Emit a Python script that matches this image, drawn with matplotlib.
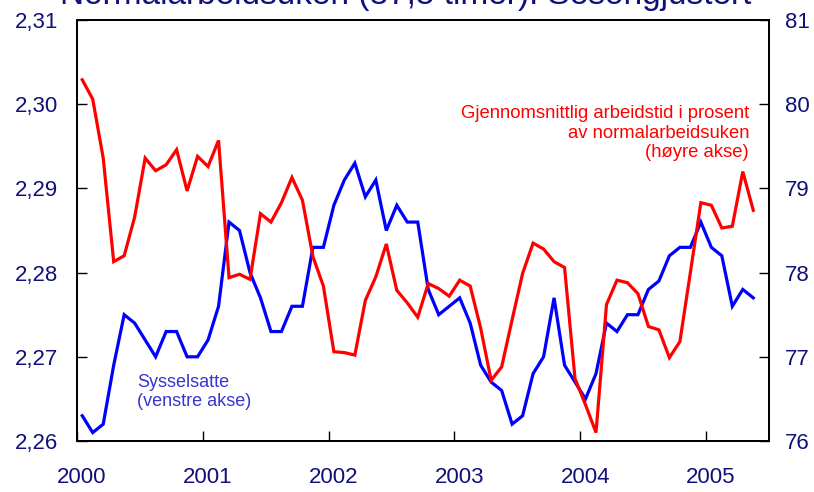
import matplotlib
matplotlib.use("Agg")
import matplotlib.pyplot as plt
import matplotlib.transforms as mtransforms
import numpy as np

plt.rcParams['font.family'] = ['Liberation Sans', 'DejaVu Sans']

# Monthly data, Jan 2000 - May 2005
start_year = 2000
employed = [2.263, 2.261, 2.262, 2.269, 2.275, 2.274, 2.272, 2.270, 2.273, 2.273, 2.270, 2.270,
            2.272, 2.276, 2.286, 2.285, 2.280, 2.277, 2.273, 2.273, 2.276, 2.276, 2.283, 2.283,
            2.288, 2.291, 2.293, 2.289, 2.291, 2.285, 2.288, 2.286, 2.286, 2.278, 2.275, 2.276,
            2.277, 2.274, 2.269, 2.267, 2.266, 2.262, 2.263, 2.268, 2.270, 2.277, 2.269, 2.267,
            2.265, 2.268, 2.274, 2.273, 2.275, 2.275, 2.278, 2.279, 2.282, 2.283, 2.283, 2.286,
            2.283, 2.282, 2.276, 2.278, 2.277]
hours_pct = [80.29, 80.06, 79.36, 78.13, 78.20, 78.66, 79.36, 79.21, 79.28, 79.46, 78.97, 79.38,
             79.26, 79.57, 77.94, 77.98, 77.92, 78.70, 78.60, 78.83, 79.13, 78.86, 78.19, 77.84,
             77.06, 77.05, 77.02, 77.67, 77.95, 78.34, 77.79, 77.64, 77.47, 77.87, 77.81, 77.72,
             77.91, 77.84, 77.34, 76.72, 76.88, 77.44, 77.99, 78.35, 78.28, 78.13, 78.06, 76.74,
             76.43, 76.10, 77.62, 77.91, 77.88, 77.75, 77.36, 77.32, 76.99, 77.18, 78.00, 78.83,
             78.80, 78.53, 78.55, 79.20, 78.74]
year_ticks = [2000, 2001, 2002, 2003, 2004, 2005]
left_ticks = [2.26, 2.27, 2.28, 2.29, 2.30, 2.31]
right_ticks = [76, 77, 78, 79, 80, 81]

title = "Normalarbeidsuken (37,5 timer). Sesongjustert"
red_label = "Gjennomsnittlig arbeidstid i prosent\nav normalarbeidsuken\n(høyre akse)"
blue_label = "Sysselsatte\n(venstre akse)"

navy = '#10107a'
x = start_year + (np.arange(len(employed)) + 0.5) / 12.0

fig = plt.figure(figsize=(8.14, 4.92), dpi=100)
ax = fig.add_axes([77/814, 1-441/492, (769-77)/814, (441-20)/492])
ax2 = ax.twinx()

ax.plot(x, employed, color='#0000ff', lw=2.3, solid_joinstyle='miter')
ax2.plot(x, hours_pct, color='#ff0000', lw=2.3, solid_joinstyle='miter')

ax.set_xlim(2000, 2005.5)
ax.set_ylim(2.26, 2.31)
ax2.set_ylim(76, 81)

ax.set_xticks(year_ticks)
ax.set_xticklabels([str(y) for y in year_ticks])
ax.set_yticks(left_ticks)
ax.set_yticklabels([f"{v:.2f}".replace('.', ',') for v in left_ticks])
ax2.set_yticks(right_ticks)
ax2.set_yticklabels([str(v) for v in right_ticks])

for a in (ax, ax2):
    for s in a.spines.values():
        s.set_linewidth(1.3)
        s.set_color('black')

ax.tick_params(axis='x', direction='in', length=7, width=1, pad=19, labelsize=16, labelcolor=navy)
ax.tick_params(axis='y', direction='in', length=7, width=1, pad=13.5, labelsize=16, labelcolor=navy)
ax2.tick_params(axis='y', direction='in', length=7, width=1, pad=11.5, labelsize=16, labelcolor=navy)

offset = mtransforms.ScaledTranslation(5/100, 0, fig.dpi_scale_trans)
for lab in ax.get_xticklabels():
    lab.set_transform(lab.get_transform() + offset)

fig.text(749/814, 1-133/492, red_label, color='#ff0000', fontsize=13.3,
         ha='right', va='center', multialignment='right', linespacing=1.2)

fig.text(137/814, 1-392/492, blue_label, color='#3535d0', fontsize=13,
         ha='left', va='center', linespacing=1.2)

fig.text(406/814, 1-4/492, title, color=navy, fontsize=24, ha='center', va='baseline')

fig.savefig('out.png', dpi=100)
